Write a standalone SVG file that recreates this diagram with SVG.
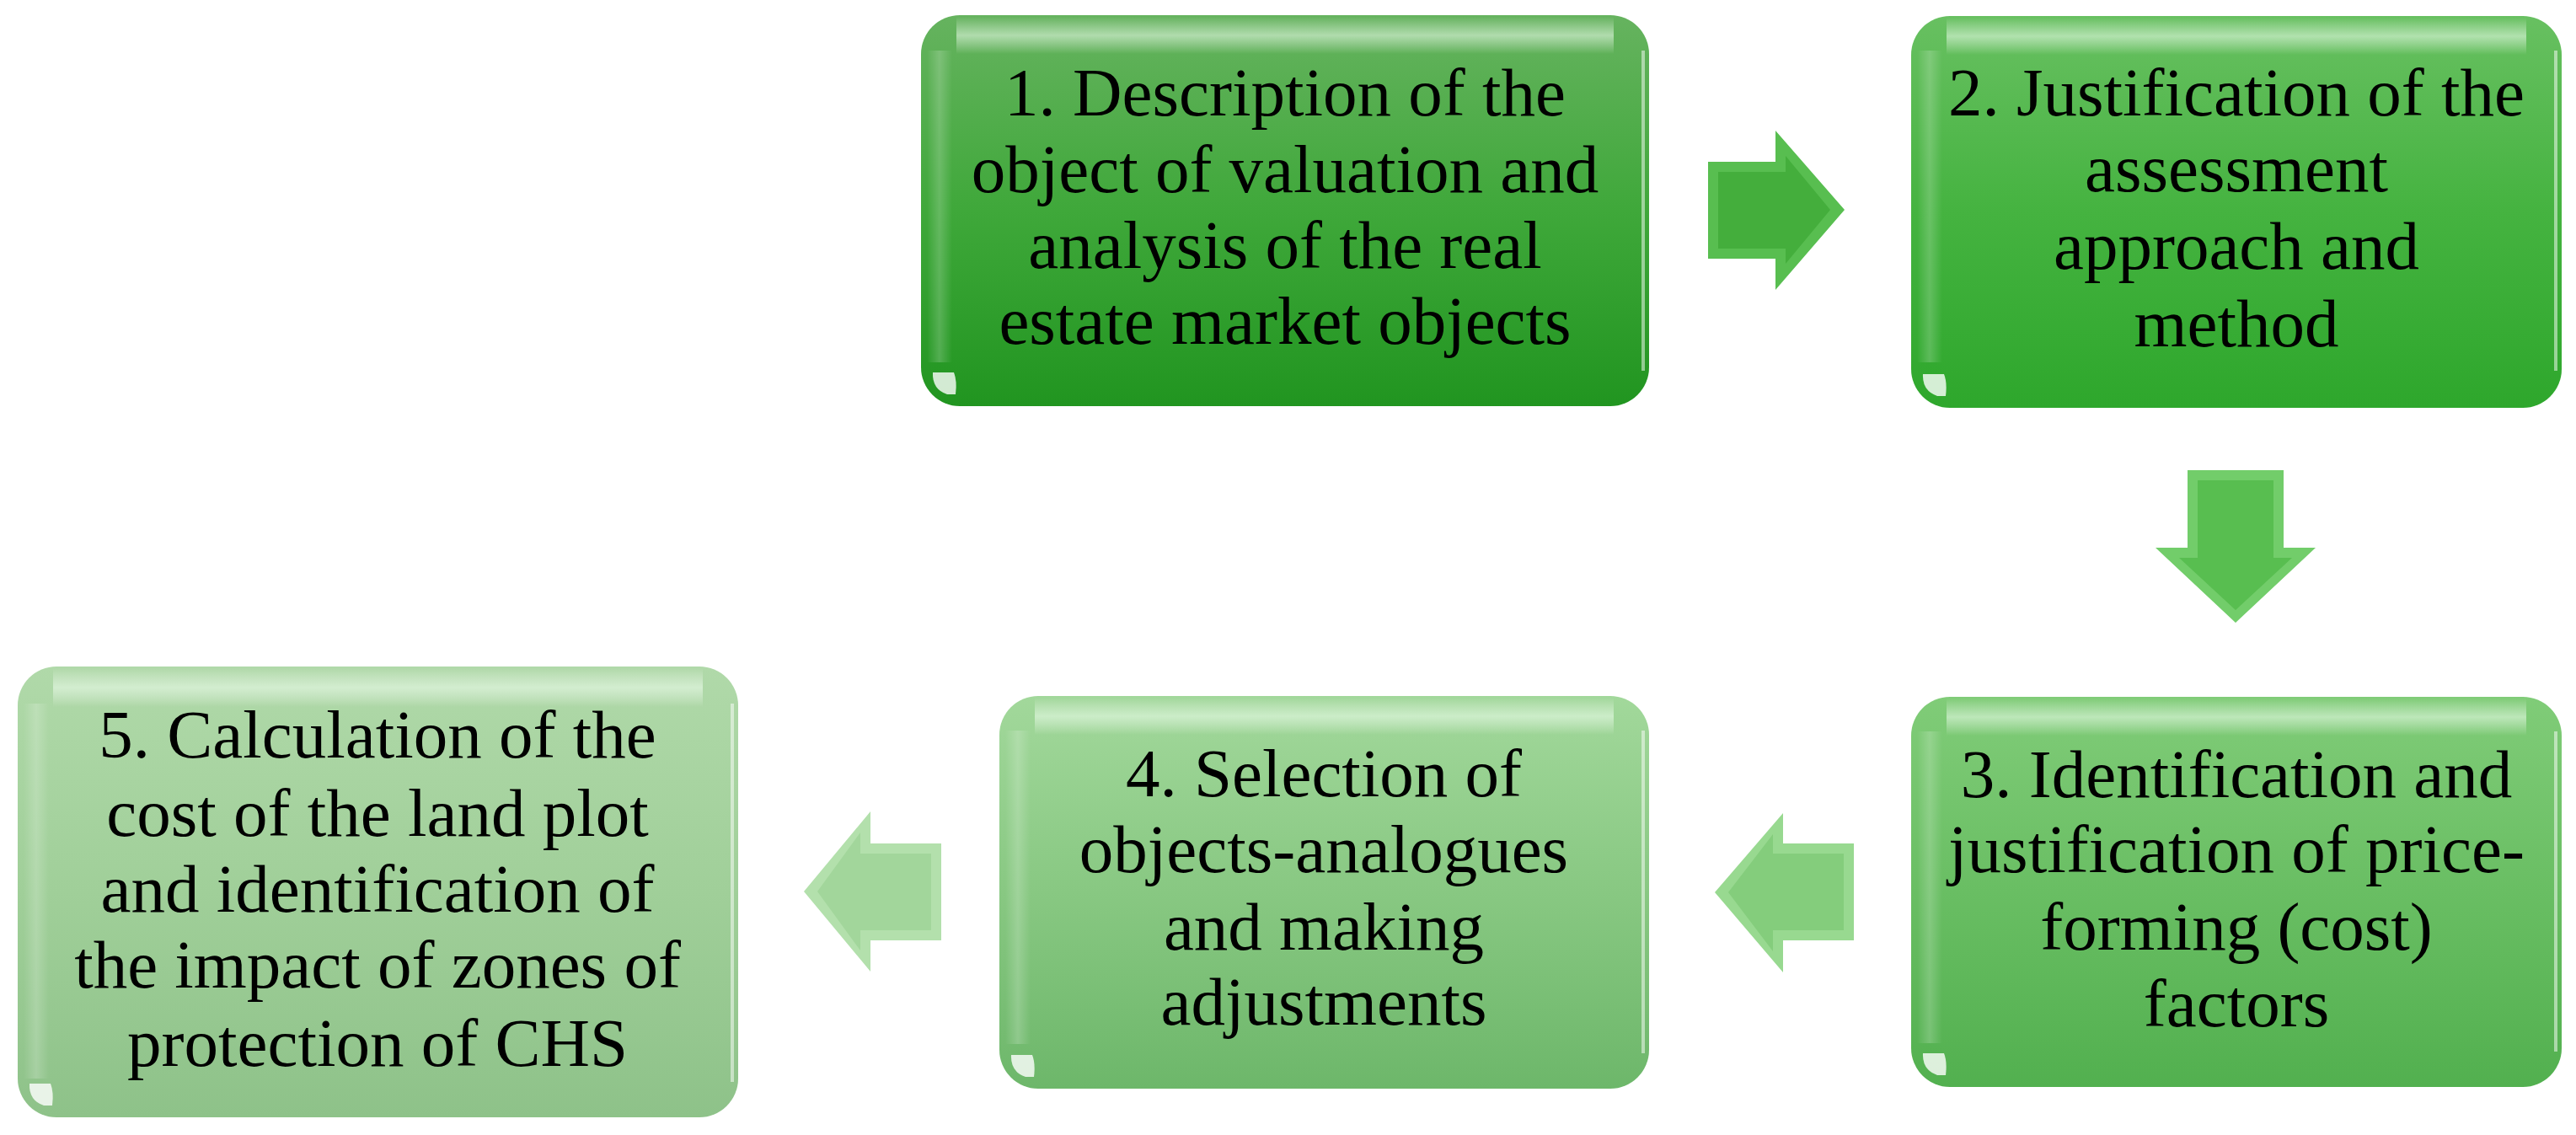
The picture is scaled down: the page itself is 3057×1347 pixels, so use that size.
<svg xmlns="http://www.w3.org/2000/svg" width="3057" height="1347" viewBox="0 0 3057 1347">
<defs>
<linearGradient id="g1" x1="0" y1="0" x2="0" y2="1"><stop offset="0" stop-color="#66b35f"/><stop offset="0.5" stop-color="#3fa83a"/><stop offset="1" stop-color="#219520"/></linearGradient>
<linearGradient id="g2" x1="0" y1="0" x2="0" y2="1"><stop offset="0" stop-color="#68c061"/><stop offset="0.5" stop-color="#45b340"/><stop offset="1" stop-color="#2ea72c"/></linearGradient>
<linearGradient id="g3" x1="0" y1="0" x2="0" y2="1"><stop offset="0" stop-color="#80cc78"/><stop offset="0.5" stop-color="#69be63"/><stop offset="1" stop-color="#52b04f"/></linearGradient>
<linearGradient id="g4" x1="0" y1="0" x2="0" y2="1"><stop offset="0" stop-color="#a2d89b"/><stop offset="0.5" stop-color="#88c882"/><stop offset="1" stop-color="#6db76a"/></linearGradient>
<linearGradient id="g5" x1="0" y1="0" x2="0" y2="1"><stop offset="0" stop-color="#b0d9a9"/><stop offset="0.5" stop-color="#a0cf99"/><stop offset="1" stop-color="#8ec289"/></linearGradient>
<linearGradient id="hl" x1="0" y1="0" x2="0" y2="1"><stop offset="0" stop-color="#ffffff" stop-opacity="0"/><stop offset="0.5" stop-color="#f0fff0" stop-opacity="0.55"/><stop offset="1" stop-color="#ffffff" stop-opacity="0"/></linearGradient>
<linearGradient id="ls" x1="0" y1="0" x2="1" y2="0"><stop offset="0" stop-color="#ffffff" stop-opacity="0"/><stop offset="0.5" stop-color="#ffffff" stop-opacity="0.2"/><stop offset="1" stop-color="#ffffff" stop-opacity="0"/></linearGradient>
</defs>
<style>
.box{stroke:none}
.hl{fill:url(#hl)}
.ls{fill:url(#ls)}
.re{stroke:#ffffff;stroke-opacity:0.5;stroke-width:4;fill:none}
.gl{fill:#ffffff;fill-opacity:0.8}
.t{font-family:"Liberation Serif","Times New Roman",serif;font-size:81px;fill:#000000;text-anchor:middle}
</style>
<rect width="3057" height="1347" fill="#ffffff"/>

<g id="node1">
<rect class="box" x="1093" y="18" width="864" height="464" rx="46" fill="url(#g1)"/>
<rect class="hl" x="1135" y="20" width="780" height="44"/>
<rect class="ls" x="1100" y="60" width="30" height="370"/>
<line class="re" x1="1950" y1="60" x2="1950" y2="440"/>
<path class="gl" d="M1107,442 Q1106,462 1124,468 L1134,468 Q1136,452 1132,442 Z"/>
<text class="t"><tspan x="1525" y="137">1. Description of the</tspan><tspan x="1525" y="228">object of valuation and</tspan><tspan x="1525" y="318">analysis of the real</tspan><tspan x="1525" y="408">estate market objects</tspan></text>
</g>

<g id="node2">
<rect class="box" x="2268" y="19" width="772" height="465" rx="46" fill="url(#g2)"/>
<rect class="hl" x="2310" y="21" width="688" height="44"/>
<rect class="ls" x="2275" y="60" width="30" height="370"/>
<line class="re" x1="3033" y1="60" x2="3033" y2="440"/>
<path class="gl" d="M2282,444 Q2281,464 2299,470 L2309,470 Q2311,454 2307,444 Z"/>
<text class="t"><tspan x="2654" y="137">2. Justification of the</tspan><tspan x="2654" y="227">assessment</tspan><tspan x="2654" y="319">approach and</tspan><tspan x="2654" y="411">method</tspan></text>
</g>

<g id="node3">
<rect class="box" x="2268" y="827" width="772" height="463" rx="46" fill="url(#g3)"/>
<rect class="hl" x="2310" y="829" width="688" height="44"/>
<rect class="ls" x="2275" y="868" width="30" height="370"/>
<line class="re" x1="3033" y1="868" x2="3033" y2="1248"/>
<path class="gl" d="M2282,1250 Q2281,1270 2299,1276 L2309,1276 Q2311,1260 2307,1250 Z"/>
<text class="t"><tspan x="2654" y="946">3. Identification and</tspan><tspan x="2654" y="1035">justification of price-</tspan><tspan x="2654" y="1127">forming (cost)</tspan><tspan x="2654" y="1218">factors</tspan></text>
</g>

<g id="node4">
<rect class="box" x="1186" y="826" width="771" height="466" rx="46" fill="url(#g4)"/>
<rect class="hl" x="1228" y="828" width="687" height="44"/>
<rect class="ls" x="1193" y="867" width="30" height="372"/>
<line class="re" x1="1950" y1="867" x2="1950" y2="1250"/>
<path class="gl" d="M1200,1252 Q1199,1272 1217,1278 L1227,1278 Q1229,1262 1225,1252 Z"/>
<text class="t"><tspan x="1571" y="945">4. Selection of</tspan><tspan x="1571" y="1035">objects-analogues</tspan><tspan x="1571" y="1127">and making</tspan><tspan x="1571" y="1216">adjustments</tspan></text>
</g>

<g id="node5">
<rect class="box" x="21" y="791" width="855" height="535" rx="46" fill="url(#g5)"/>
<rect class="hl" x="63" y="793" width="771" height="46"/>
<rect class="ls" x="28" y="835" width="30" height="445"/>
<line class="re" x1="869" y1="835" x2="869" y2="1284"/>
<path class="gl" d="M35,1286 Q34,1306 52,1312 L62,1312 Q64,1296 60,1286 Z"/>
<text class="t"><tspan x="448" y="899">5. Calculation of the</tspan><tspan x="448" y="992">cost of the land plot</tspan><tspan x="448" y="1082">and identification of</tspan><tspan x="448" y="1172">the impact of zones of</tspan><tspan x="448" y="1265">protection of CHS</tspan></text>
</g>

<g id="connectors">
<g id="arrow1-2">
<polygon points="2027,192 2107,192 2107,155 2189,249 2107,344 2107,307 2027,307" fill="#58be50"/>
<polygon points="2039,204 2119,204 2119,185 2172,249 2119,313 2119,295 2039,295" fill="#44ae3c"/>
</g>
<g id="arrow2-3">
<polygon points="2596,558 2710,558 2710,650 2748,650 2653,739 2558,650 2596,650" fill="#72cd6a"/>
<polygon points="2608,570 2698,570 2698,662 2720,662 2653,724 2586,662 2608,662" fill="#58be50"/>
</g>
<g id="arrow3-4">
<polygon points="2200,1001 2116,1001 2116,965 2035,1059 2116,1154 2116,1116 2200,1116" fill="#98d990"/>
<polygon points="2188,1013 2104,1013 2104,990 2051,1059 2104,1129 2104,1104 2188,1104" fill="#84cd7c"/>
</g>
<g id="arrow4-5">
<polygon points="1117,1001 1033,1001 1033,963 954,1058 1033,1153 1033,1116 1117,1116" fill="#b3e0ac"/>
<polygon points="1105,1013 1021,1013 1021,988 970,1058 1021,1128 1021,1104 1105,1104" fill="#a2d69b"/>
</g>
</g>
</svg>
